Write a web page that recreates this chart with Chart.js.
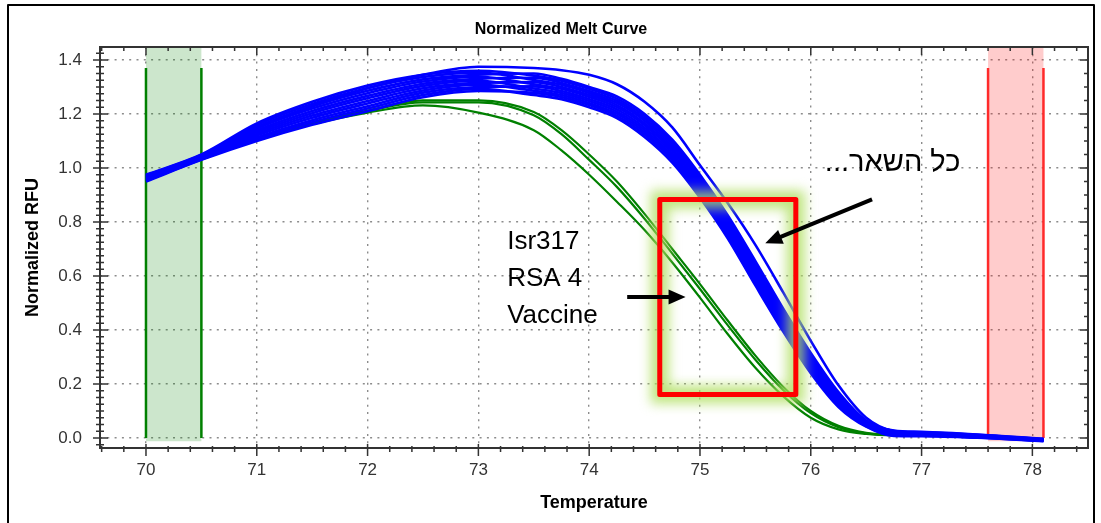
<!DOCTYPE html>
<html>
<head>
<meta charset="utf-8">
<script src="https://cdn.jsdelivr.net/npm/chart.js@4.4.1/dist/chart.umd.min.js"></script>
<style>
html,body{margin:0;padding:0;background:#fff;}
#wrap{position:relative;width:1101px;height:523px;background:#fff;}
</style>
</head>
<body>
<div id="wrap"><canvas id="c" width="1101" height="523"></canvas></div>
<script>
const FONT = "'Liberation Sans', Arial, 'DejaVu Sans', sans-serif";

// ---- data ----
const temperatures = [70, 70.5, 71, 71.5, 72, 72.5, 73, 73.5, 73.75, 74, 74.25, 74.5, 74.75, 75, 75.25, 75.5, 75.75, 76, 76.25, 76.5, 76.75, 77, 77.5, 78.1];

const blueWell01 = [0.953, 1.032, 1.107, 1.169, 1.220, 1.270, 1.293, 1.270, 1.255, 1.225, 1.185, 1.115, 1.020, 0.890, 0.740, 0.565, 0.395, 0.240, 0.115, 0.042, 0.008, 0.007, 0.001, -0.012];
const blueWell02 = [0.950, 1.030, 1.100, 1.160, 1.210, 1.262, 1.285, 1.278, 1.263, 1.233, 1.193, 1.124, 1.029, 0.899, 0.749, 0.574, 0.404, 0.248, 0.121, 0.044, 0.010, 0.009, 0.002, -0.011];
const blueWell03 = [0.958, 1.036, 1.120, 1.186, 1.239, 1.287, 1.308, 1.286, 1.270, 1.240, 1.201, 1.132, 1.037, 0.907, 0.757, 0.583, 0.412, 0.255, 0.126, 0.047, 0.012, 0.010, 0.003, -0.010];
const blueWell04 = [0.963, 1.040, 1.133, 1.203, 1.258, 1.304, 1.323, 1.294, 1.278, 1.248, 1.209, 1.141, 1.046, 0.916, 0.766, 0.592, 0.421, 0.263, 0.132, 0.049, 0.014, 0.012, 0.005, -0.009];
const blueWell05 = [0.955, 1.034, 1.113, 1.177, 1.229, 1.279, 1.300, 1.302, 1.285, 1.255, 1.217, 1.149, 1.054, 0.924, 0.774, 0.601, 0.429, 0.270, 0.137, 0.051, 0.016, 0.013, 0.006, -0.008];
const blueWell06 = [0.968, 1.044, 1.146, 1.220, 1.277, 1.320, 1.338, 1.310, 1.293, 1.263, 1.225, 1.158, 1.063, 0.933, 0.783, 0.610, 0.438, 0.278, 0.143, 0.054, 0.018, 0.015, 0.007, -0.008];
const blueWell07 = [0.960, 1.038, 1.126, 1.194, 1.248, 1.295, 1.315, 1.318, 1.300, 1.270, 1.233, 1.166, 1.071, 0.941, 0.791, 0.619, 0.446, 0.285, 0.148, 0.056, 0.020, 0.017, 0.008, -0.007];
const blueWell08 = [0.973, 1.048, 1.159, 1.237, 1.296, 1.337, 1.353, 1.326, 1.308, 1.278, 1.241, 1.175, 1.080, 0.950, 0.800, 0.628, 0.455, 0.293, 0.154, 0.058, 0.022, 0.018, 0.009, -0.006];
const blueWell09 = [0.965, 1.042, 1.139, 1.211, 1.267, 1.312, 1.330, 1.334, 1.315, 1.285, 1.249, 1.183, 1.088, 0.958, 0.808, 0.637, 0.463, 0.300, 0.159, 0.060, 0.024, 0.020, 0.011, -0.005];
const blueWell10 = [0.975, 1.050, 1.165, 1.245, 1.305, 1.345, 1.360, 1.342, 1.323, 1.293, 1.257, 1.192, 1.097, 0.967, 0.817, 0.646, 0.472, 0.308, 0.165, 0.063, 0.026, 0.021, 0.012, -0.004];
const blueWell11 = [0.970, 1.046, 1.152, 1.228, 1.286, 1.328, 1.345, 1.350, 1.330, 1.300, 1.265, 1.200, 1.105, 0.975, 0.825, 0.655, 0.480, 0.315, 0.170, 0.065, 0.028, 0.023, 0.013, -0.003];
const blueWell12 = [0.968, 1.045, 1.150, 1.230, 1.295, 1.345, 1.375, 1.370, 1.362, 1.345, 1.310, 1.245, 1.150, 1.010, 0.870, 0.715, 0.540, 0.360, 0.195, 0.075, 0.025, 0.018, 0.008, -0.006];

const greenIsr317  = [0.955, 1.034, 1.105, 1.165, 1.213, 1.250, 1.250, 1.207, 1.140, 1.050, 0.950, 0.830, 0.700, 0.570, 0.435, 0.305, 0.190, 0.100, 0.045, 0.019, 0.011, 0.010, 0.005, -0.008];
const greenRSA4    = [0.954, 1.033, 1.104, 1.164, 1.211, 1.243, 1.243, 1.195, 1.125, 1.030, 0.930, 0.812, 0.683, 0.552, 0.418, 0.290, 0.178, 0.092, 0.040, 0.017, 0.011, 0.010, 0.005, -0.008];
const greenVaccine = [0.952, 1.032, 1.102, 1.162, 1.205, 1.232, 1.205, 1.140, 1.065, 0.975, 0.875, 0.770, 0.650, 0.520, 0.385, 0.260, 0.155, 0.075, 0.032, 0.015, 0.010, 0.010, 0.005, -0.008];

const xTickLabels = [70, 71, 72, 73, 74, 75, 76, 77, 78];
const yTickLabels = [0.0, 0.2, 0.4, 0.6, 0.8, 1.0, 1.2, 1.4];

const noteLines = ['Isr317', 'RSA 4', 'Vaccine'];
const noteHebrew = 'כל השאר...';

// ---- build datasets ----
const blueSeries = [blueWell01, blueWell02, blueWell03, blueWell04, blueWell05, blueWell06,
                    blueWell07, blueWell08, blueWell09, blueWell10, blueWell11, blueWell12];
const greenSeries = [greenIsr317, greenRSA4, greenVaccine];
const toPoints = vals => vals.map((v, i) => ({x: temperatures[i], y: v}));

const datasets = [];
blueSeries.forEach(s => datasets.push({
  data: toPoints(s), borderColor: '#0000ff', borderWidth: 2.6, pointRadius: 0,
  cubicInterpolationMode: 'monotone', fill: false, order: 1
}));
greenSeries.forEach(s => datasets.push({
  data: toPoints(s), borderColor: '#008000', borderWidth: 2.2, pointRadius: 0,
  cubicInterpolationMode: 'monotone', fill: false, order: 2
}));

// ---- decorations ----
const bands = [
  {from: 70, to: 70.5, fill: 'rgba(0,128,0,0.2)', line: '#008000'},
  {from: 77.6, to: 78.1, fill: 'rgba(255,0,0,0.2)', line: '#ff2a2a'}
];
const notes = {
  box: {x1: 74.637, x2: 75.865, y1: 0.883, y2: 0.161},
  arrowLeft: {x1: 74.343, y1: 0.522, x2: 74.87, y2: 0.522},
  arrowRight: {x1: 76.553, y1: 0.884, x2: 75.589, y2: 0.721},
  textX: 73.26, textY: [0.70, 0.563, 0.426],
  hebX: 77.35, hebY: 0.99
};

function drawArrow(ctx, x1, y1, x2, y2) {
  const ang = Math.atan2(y2 - y1, x2 - x1);
  const hl = 17, hw = 7.5;
  const bx = x2 - hl * Math.cos(ang), by = y2 - hl * Math.sin(ang);
  ctx.lineWidth = 4;
  ctx.lineCap = 'butt';
  ctx.beginPath(); ctx.moveTo(x1, y1); ctx.lineTo(bx + Math.cos(ang), by + Math.sin(ang)); ctx.stroke();
  ctx.beginPath();
  ctx.moveTo(x2, y2);
  ctx.lineTo(bx + hw * Math.sin(ang), by - hw * Math.cos(ang));
  ctx.lineTo(bx - hw * Math.sin(ang), by + hw * Math.cos(ang));
  ctx.closePath(); ctx.fill();
}

const decor = {
  id: 'decor',
  beforeDatasetsDraw(chart) {
    const {ctx, chartArea: a, scales: {x, y}} = chart;
    ctx.save();
    bands.forEach(b => {
      const x1 = x.getPixelForValue(b.from), x2 = x.getPixelForValue(b.to);
      const yb = y.getPixelForValue(-0.012);
      ctx.fillStyle = b.fill;
      ctx.fillRect(x1, a.top, x2 - x1, yb - a.top);
      ctx.strokeStyle = b.line; ctx.lineWidth = 2.5;
      const yt = y.getPixelForValue(1.37), y0 = y.getPixelForValue(0);
      [x1, x2].forEach(px => { ctx.beginPath(); ctx.moveTo(px, yt); ctx.lineTo(px, y0); ctx.stroke(); });
    });
    ctx.restore();
  },
  afterDatasetsDraw(chart) {
    const {ctx, chartArea: a, scales: {x, y}} = chart;
    ctx.save();
    ctx.strokeStyle = '#333'; ctx.lineWidth = 2;
    ctx.strokeRect(a.left, a.top, a.right - a.left, a.bottom - a.top);
    ctx.lineWidth = 1.5;
    ctx.beginPath();
    for (let k = 348; k <= 392; k++) {
      const px = x.getPixelForValue(k / 5);
      if (px < a.left + 1 || px > a.right - 1) continue;
      const major = k % 5 === 0;
      ctx.moveTo(px, a.bottom - (major ? 4 : 2)); ctx.lineTo(px, a.bottom + (major ? 8 : 4));
      ctx.moveTo(px, a.top); ctx.lineTo(px, a.top + (major ? 8 : 4));
    }
    for (let k = -1; k <= 57; k++) {
      const py = y.getPixelForValue(k * 0.025);
      if (py < a.top + 1 || py > a.bottom - 1) continue;
      const major = k % 8 === 0;
      ctx.moveTo(a.left - (major ? 7 : 4), py); ctx.lineTo(a.left + (major ? 8 : 4), py);
      if (k % 2 === 0) { ctx.moveTo(a.right, py); ctx.lineTo(a.right - (major ? 8 : 4), py); }
    }
    ctx.stroke();
    ctx.restore();
  },
  afterDraw(chart) {
    const {ctx, scales: {x, y}} = chart;
    const px = v => x.getPixelForValue(v), py = v => y.getPixelForValue(v);
    ctx.save();
    // glow + red box
    const b = notes.box;
    const bx = px(b.x1), by = py(b.y1), bw = px(b.x2) - bx, bh = py(b.y2) - by;
    ctx.save();
    ctx.filter = 'blur(6px)';
    ctx.strokeStyle = 'rgba(175,222,95,0.8)'; ctx.lineWidth = 18;
    ctx.strokeRect(bx, by, bw, bh);
    ctx.restore();
    ctx.strokeStyle = '#ff0000'; ctx.lineWidth = 5; ctx.lineJoin = 'round';
    ctx.strokeRect(bx, by, bw, bh);
    // arrows
    ctx.strokeStyle = '#000'; ctx.fillStyle = '#000';
    const al = notes.arrowLeft, ar = notes.arrowRight;
    drawArrow(ctx, px(al.x1), py(al.y1), px(al.x2), py(al.y2));
    drawArrow(ctx, px(ar.x1), py(ar.y1), px(ar.x2), py(ar.y2));
    // texts
    ctx.fillStyle = '#000';
    ctx.font = '26px ' + FONT;
    ctx.textAlign = 'left'; ctx.textBaseline = 'alphabetic';
    noteLines.forEach((t, i) => ctx.fillText(t, px(notes.textX), py(notes.textY[i])));
    ctx.direction = 'rtl';
    ctx.textAlign = 'right';
    ctx.font = '29px ' + FONT;
    ctx.fillText(noteHebrew, px(notes.hebX), py(notes.hebY));
    ctx.direction = 'ltr';
    // outer frame
    ctx.strokeStyle = '#000'; ctx.lineWidth = 2;
    ctx.strokeRect(8, 5, 1086, 600);
    ctx.restore();
  }
};

new Chart(document.getElementById('c'), {
  type: 'line',
  data: {datasets},
  plugins: [decor],
  options: {
    responsive: false, animation: false, devicePixelRatio: 1,
    layout: {padding: {left: 34, right: 13, top: 0, bottom: 0}},
    plugins: {
      legend: {display: false}, tooltip: {enabled: false},
      title: {display: true, text: 'Normalized Melt Curve', color: '#000',
              font: {family: FONT, size: 16, weight: 'bold'}, padding: {top: 20.4, bottom: 7.4}}
    },
    scales: {
      x: {
        type: 'linear', min: 69.585, max: 78.502,
        afterFit: s => { s.height = 75; },
        afterBuildTicks: s => { s.ticks = xTickLabels.map(v => ({value: v})); },
        ticks: {padding: 12, color: '#333', font: {family: FONT, size: 17}, maxRotation: 0, autoSkip: false,
                callback: v => String(v)},
        grid: {color: '#8c8c8c', lineWidth: 1.4, drawTicks: false},
        border: {display: false, dash: [2, 5.3]},
        title: {display: true, text: 'Temperature', color: '#000',
                font: {family: FONT, size: 18, weight: 'bold'}, padding: {top: 0, bottom: 9.2}}
      },
      y: {
        type: 'linear', min: -0.037, max: 1.448,
        afterFit: s => { s.width = 66; },
        afterBuildTicks: s => { s.ticks = yTickLabels.map(v => ({value: v})); },
        ticks: {padding: 18, color: '#333', font: {family: FONT, size: 17}, autoSkip: false,
                callback: v => Number(v).toFixed(1)},
        grid: {color: '#8c8c8c', lineWidth: 1.4, drawTicks: false},
        border: {display: false, dash: [2, 5.3]},
        title: {display: true, text: 'Normalized RFU', color: '#000',
                font: {family: FONT, size: 18, weight: 'bold'}, padding: {top: -11.8, bottom: 0}}
      }
    }
  }
});
</script>
</body>
</html>
